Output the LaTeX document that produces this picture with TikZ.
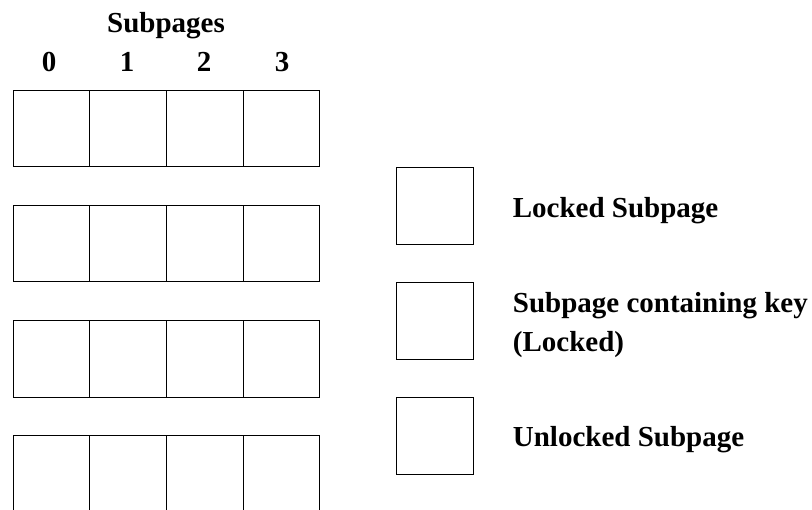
\documentclass[tikz,border=0pt]{standalone}
\usepackage{fontspec}
\setmainfont{Liberation Serif}
\begin{document}
\begin{tikzpicture}[x=1pt,y=-1pt,
  cell/.style={draw=black,line width=0.9pt,minimum width=76.7pt,minimum height=76.7pt,inner sep=0pt,outer sep=0pt,anchor=north west},
  lbl/.style={font=\fontsize{29}{38}\selectfont\bfseries,inner sep=0pt,anchor=base west},
  hdr/.style={font=\fontsize{29}{32}\selectfont\bfseries,inner sep=0pt,anchor=base}]
\useasboundingbox (0,0) rectangle (812,510);
\node[hdr] (title) at (166,33) {Subpages};
\foreach \c/\x in {0/49,1/127,2/204,3/282}{
  \node[hdr] (d\c) at (\x,72) {\c};
}
\foreach \r/\y in {1/90,2/205,3/320.3,4/435.7}{
  \foreach \c/\x in {0/13,1/89.7,2/166.3,3/243}{
    \node[cell] (r\r c\c) at (\x,\y) {};
  }
}
\node[cell] (k1) at (396.7,167.3) {};
\node[cell] (k2) at (396.7,282.7) {};
\node[cell] (k3) at (396.7,397.7) {};
\node[lbl] (l1) at (512.7,218) {Locked Subpage};
\node[lbl] (l2a) at (512.7,313) {Subpage containing key};
\node[lbl] (l2b) at (512.7,351.7) {(Locked)};
\node[lbl] (l3) at (512.7,446.7) {Unlocked Subpage};
\end{tikzpicture}
\end{document}
